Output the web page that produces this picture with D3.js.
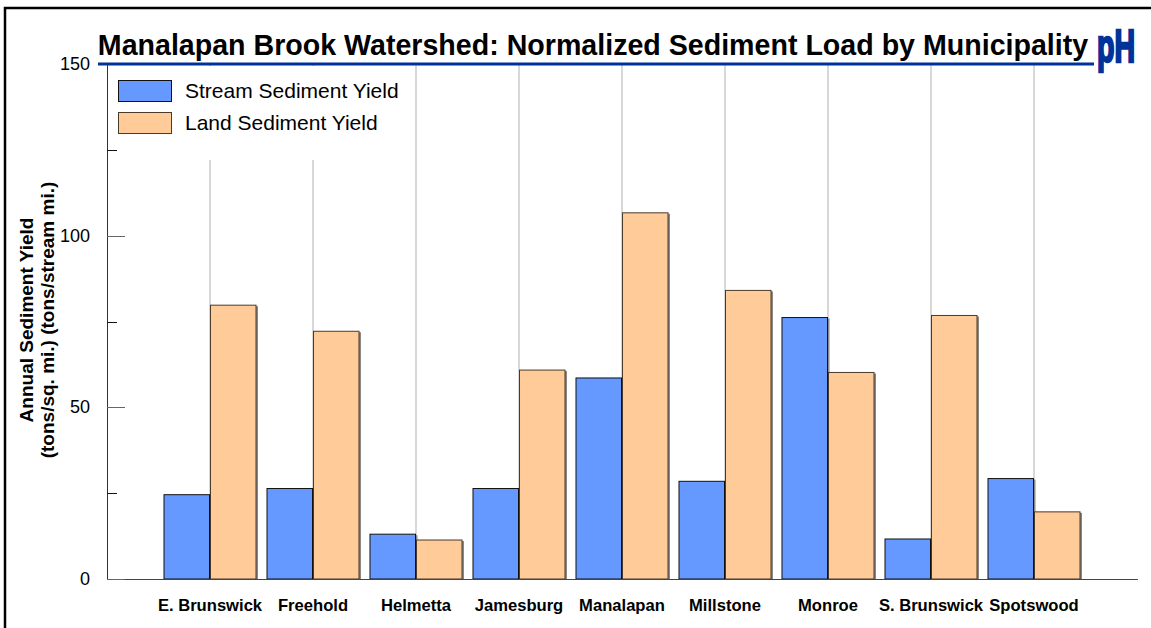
<!DOCTYPE html>
<html lang="en">
<head>
    <meta charset="UTF-8">
    <title>Manalapan Brook Watershed</title>
    <script src="https://cdn.jsdelivr.net/npm/d3@7"></script>
    <style>
        body { margin: 0; background: #fff; }
        text { font-family: "Liberation Sans", Arial, sans-serif; }
    </style>
</head>
<body>
<svg width="1151" height="628"></svg>

<script>

    var municipalities = ["E. Brunswick", "Freehold", "Helmetta", "Jamesburg", "Manalapan",
        "Millstone", "Monroe", "S. Brunswick", "Spotswood"];
    var streamYield = [24.7, 26.5, 13.2, 26.5, 58.7, 28.6, 76.3, 11.8, 29.4];
    var landYield = [79.9, 72.3, 11.5, 61.0, 106.8, 84.2, 60.3, 76.9, 19.7];
    var seriesNames = ["Stream Sediment Yield", "Land Sediment Yield"];
    var majorTicks = [0, 50, 100, 150];
    var minorTicks = [25, 75, 125];

    var svg = d3.select("svg"),
        width = +svg.attr("width"),
        height = +svg.attr("height");

    // plot box (don't call it "top", window.top is read only)
    var plotLeft = 107, plotRight = 1138, plotTop = 64, plotBottom = 579;

    var colors = ["#6699ff", "#ffcc99"];
    var strokes = ["#111", "#4a3a2a"];

    var data = municipalities.map(function (m, i) {
        return {name: m, values: [streamYield[i], landYield[i]]};
    });

    var x = d3.scaleBand()
        .domain(municipalities)
        .range([158.5, 1085.5])
        .paddingInner(0.097)
        .paddingOuter(0.0485);

    var x1 = d3.scaleBand()
        .domain([0, 1])
        .range([0, x.bandwidth()]);

    var y = d3.scaleLinear()
        .domain([0, 150])
        .range([plotBottom, plotTop]);

    // outer frame
    svg.append("rect")
        .attr("x", 5).attr("y", 8)
        .attr("width", width + 20).attr("height", height + 20)
        .attr("fill", "none")
        .attr("stroke", "#000")
        .attr("stroke-width", 2.5);

    // vertical grid lines at group centres
    svg.append("g")
        .selectAll("line")
        .data(municipalities)
        .enter().append("line")
        .attr("x1", function (d) { return x(d) + x.bandwidth() / 2; })
        .attr("x2", function (d) { return x(d) + x.bandwidth() / 2; })
        .attr("y1", plotTop)
        .attr("y2", plotBottom)
        .attr("stroke", "#d8d8d8")
        .attr("stroke-width", 2);

    // bars
    var groups = svg.append("g")
        .selectAll("g")
        .data(data)
        .enter().append("g")
        .attr("transform", function (d) { return "translate(" + x(d.name) + ",0)"; });

    // little shadow like the original
    groups.selectAll("rect.shadow")
        .data(function (d) { return d.values; })
        .enter().append("rect")
        .attr("class", "shadow")
        .attr("x", function (d, i) { return x1(i) + 1.5; })
        .attr("y", function (d) { return y(d) + 1.5; })
        .attr("width", x1.bandwidth())
        .attr("height", function (d) { return plotBottom - y(d) - 1.5; })
        .attr("fill", "#888");

    groups.selectAll("rect.bar")
        .data(function (d) { return d.values; })
        .enter().append("rect")
        .attr("class", "bar")
        .attr("x", function (d, i) { return x1(i) + 0.5; })
        .attr("y", function (d) { return y(d) + 0.5; })
        .attr("width", x1.bandwidth() - 1)
        .attr("height", function (d) { return plotBottom - y(d) - 0.5; })
        .attr("fill", function (d, i) { return colors[i]; })
        .attr("stroke", function (d, i) { return strokes[i]; })
        .attr("stroke-width", 1);

    // legend (white box hides the grid behind it)
    var legend = svg.append("g");
    legend.append("rect")
        .attr("x", plotLeft + 2).attr("y", plotTop + 2)
        .attr("width", 300).attr("height", 94)
        .attr("fill", "#fff");
    var legendItem = legend.selectAll("g")
        .data(seriesNames)
        .enter().append("g")
        .attr("transform", function (d, i) { return "translate(118," + (80 + i * 32) + ")"; });
    legendItem.append("rect")
        .attr("x", 0.5).attr("y", 0.5)
        .attr("width", 53).attr("height", 21)
        .attr("fill", function (d, i) { return colors[i]; })
        .attr("stroke", function (d, i) { return strokes[i]; });
    legendItem.append("text")
        .attr("x", 67).attr("y", 18)
        .style("font-size", "21px")
        .attr("fill", "#000")
        .text(function (d) { return d; });

    // axes
    svg.append("line")
        .attr("x1", plotLeft + 0.5).attr("x2", plotLeft + 0.5)
        .attr("y1", plotTop).attr("y2", plotBottom + 0.5)
        .attr("stroke", "#333");
    svg.append("line")
        .attr("x1", plotLeft).attr("x2", plotRight)
        .attr("y1", plotBottom + 0.5).attr("y2", plotBottom + 0.5)
        .attr("stroke", "#444");

    svg.append("g")
        .selectAll("line")
        .data(majorTicks)
        .enter().append("line")
        .attr("x1", plotLeft).attr("x2", plotLeft + 18)
        .attr("y1", function (d) { return Math.round(y(d)) + 0.5; })
        .attr("y2", function (d) { return Math.round(y(d)) + 0.5; })
        .attr("stroke", "#666");
    svg.append("g")
        .selectAll("line")
        .data(minorTicks)
        .enter().append("line")
        .attr("x1", plotLeft).attr("x2", plotLeft + 10)
        .attr("y1", function (d) { return Math.round(y(d)) + 0.5; })
        .attr("y2", function (d) { return Math.round(y(d)) + 0.5; })
        .attr("stroke", "#111");

    svg.append("g")
        .selectAll("text")
        .data(majorTicks)
        .enter().append("text")
        .attr("x", 90)
        .attr("y", function (d) { return y(d) + 6; })
        .attr("text-anchor", "end")
        .style("font-size", "18px")
        .text(function (d) { return d; });

    svg.append("g")
        .selectAll("text")
        .data(municipalities)
        .enter().append("text")
        .attr("x", function (d) { return x(d) + x.bandwidth() / 2; })
        .attr("y", 611)
        .attr("text-anchor", "middle")
        .style("font-size", "16.6px")
        .style("font-weight", "bold")
        .text(function (d) { return d; });

    // y axis title
    var yTitle = svg.append("text")
        .attr("transform", "translate(0,320) rotate(-90)")
        .attr("text-anchor", "middle")
        .style("font-size", "19px")
        .style("font-weight", "bold");
    yTitle.append("tspan").attr("x", 0).attr("y", 33).text("Annual Sediment Yield");
    yTitle.append("tspan").attr("x", 0).attr("y", 54).text("(tons/sq. mi.) (tons/stream mi.)");

    // title + underline + logo
    svg.append("text")
        .attr("x", 593).attr("y", 55)
        .attr("text-anchor", "middle")
        .style("font-size", "28.6px")
        .style("font-weight", "bold")
        .text("Manalapan Brook Watershed: Normalized Sediment Load by Municipality");
    svg.append("line")
        .attr("x1", 98).attr("x2", 1094)
        .attr("y1", 64).attr("y2", 64)
        .attr("stroke", "#003399")
        .attr("stroke-width", 3);
    svg.append("text")
        .attr("transform", "translate(1097,62) scale(0.62,1)")
        .style("font-size", "46px")
        .style("font-weight", "bold")
        .attr("fill", "#003399")
        .attr("stroke", "#003399")
        .attr("stroke-width", 2.5)
        .text("pH");

</script>

</body>
</html>
